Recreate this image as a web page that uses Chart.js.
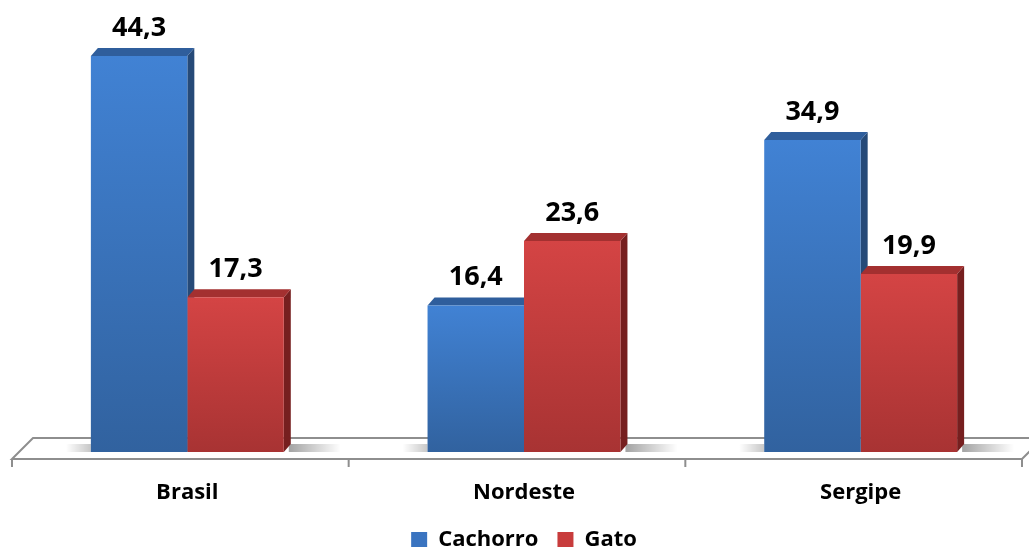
<!DOCTYPE html>
<html>
<head>
<meta charset="utf-8">
<script src="https://cdn.jsdelivr.net/npm/chart.js@4.4.1/dist/chart.umd.min.js"></script>
<style>
  html, body { margin: 0; padding: 0; background: #ffffff; }
  #wrap { width: 1029px; height: 547px; }
</style>
</head>
<body>
<div id="wrap"><canvas id="petChart"></canvas></div>
<script>
// Chart data
const categories = ['Brasil', 'Nordeste', 'Sergipe'];
const cachorro = [44.3, 16.4, 34.9];
const gato = [17.3, 23.6, 19.9];
const yMax = 50;

// Face colours: front top, front bottom, top face, side face
const palette = {
    blue: { top: '#4182d4', bottom: '#31629f', lid: '#2f5e9c', side: '#264a78', legend: '#3a74c0' },
    red:  { top: '#d44444', bottom: '#a83333', lid: '#a33030', side: '#761f1f', legend: '#c83c3c' }
};

const DEPTH_X = 7;
const DEPTH_Y = 8;

function formatValue(v) {
    return v.toFixed(1).replace('.', ',');
}

function frontGradient(colors) {
    return function(context) {
        if (context.type !== 'data') return colors.legend;
        const chart = context.chart;
        const yScale = chart.scales.y;
        if (!yScale || !chart.chartArea) return colors.top;
        const yTop = yScale.getPixelForValue(context.raw);
        const yBase = yScale.getPixelForValue(0);
        const g = chart.ctx.createLinearGradient(0, yTop, 0, yBase);
        g.addColorStop(0, colors.top);
        g.addColorStop(1, colors.bottom);
        return g;
    };
}

// Floor, shadows and the 3D top/side faces, drawn under the front faces
const boxPlugin = {
    id: 'box3d',
    beforeDatasetsDraw(chart) {
        const ctx = chart.ctx;
        const area = chart.chartArea;
        const base = chart.scales.y.getPixelForValue(0);
        const left = area.left, right = area.right;

        ctx.save();
        // floor
        ctx.beginPath();
        ctx.moveTo(left - 7, base + 7);
        ctx.lineTo(left + 14, base - 14);
        ctx.lineTo(right + 14, base - 14);
        ctx.lineTo(right - 7, base + 7);
        ctx.closePath();
        ctx.fillStyle = '#ffffff';
        ctx.fill();
        ctx.strokeStyle = '#8e8e8e';
        ctx.lineWidth = 2;
        ctx.stroke();

        // tick marks at category boundaries on the front edge
        const step = (right - left) / categories.length;
        ctx.beginPath();
        for (let i = 0; i <= categories.length; i++) {
            const tx = left + step * i - 7;
            ctx.moveTo(tx, base + 7);
            ctx.lineTo(tx, base + 15);
        }
        ctx.stroke();

        // soft shadows beside each group
        const blueMeta = chart.getDatasetMeta(0);
        const redMeta = chart.getDatasetMeta(1);
        for (let i = 0; i < categories.length; i++) {
            const b = blueMeta.data[i];
            const r = redMeta.data[i];
            const gx0 = r.x + r.width / 2 + DEPTH_X;
            let g = ctx.createLinearGradient(gx0, 0, gx0 + 50, 0);
            g.addColorStop(0, 'rgba(0,0,0,0.35)');
            g.addColorStop(1, 'rgba(0,0,0,0)');
            ctx.fillStyle = g;
            ctx.fillRect(gx0 - 2, base - DEPTH_Y, 52, DEPTH_Y);
            const lx = b.x - b.width / 2;
            g = ctx.createLinearGradient(lx, 0, lx - 25, 0);
            g.addColorStop(0, 'rgba(0,0,0,0.22)');
            g.addColorStop(1, 'rgba(0,0,0,0)');
            ctx.fillStyle = g;
            ctx.fillRect(lx - 25, base - DEPTH_Y, 25, DEPTH_Y);
        }

        // top and side faces
        chart.data.datasets.forEach((ds, di) => {
            const colors = di === 0 ? palette.blue : palette.red;
            chart.getDatasetMeta(di).data.forEach(bar => {
                const l = bar.x - bar.width / 2;
                const rr = bar.x + bar.width / 2;
                const top = bar.y;
                ctx.fillStyle = colors.side;
                ctx.beginPath();
                ctx.moveTo(rr, top);
                ctx.lineTo(rr + DEPTH_X, top - DEPTH_Y);
                ctx.lineTo(rr + DEPTH_X, base - DEPTH_Y);
                ctx.lineTo(rr, base);
                ctx.closePath();
                ctx.fill();
                ctx.fillStyle = colors.lid;
                ctx.beginPath();
                ctx.moveTo(l, top);
                ctx.lineTo(l + DEPTH_X, top - DEPTH_Y);
                ctx.lineTo(rr + DEPTH_X, top - DEPTH_Y);
                ctx.lineTo(rr, top);
                ctx.closePath();
                ctx.fill();
            });
        });
        ctx.restore();
    },
    afterDatasetsDraw(chart) {
        // value labels
        const ctx = chart.ctx;
        ctx.save();
        ctx.font = 'bold 27px "Open Sans"';
        ctx.fillStyle = '#000000';
        ctx.textAlign = 'center';
        ctx.textBaseline = 'alphabetic';
        chart.data.datasets.forEach((ds, di) => {
            chart.getDatasetMeta(di).data.forEach((bar, i) => {
                ctx.fillText(formatValue(ds.data[i]), bar.x, bar.y - 20);
            });
        });
        ctx.restore();
    }
};

const ctx = document.getElementById('petChart').getContext('2d');
new Chart(ctx, {
    type: 'bar',
    data: {
        labels: categories,
        datasets: [{
            label: 'Cachorro',
            data: cachorro,
            backgroundColor: frontGradient(palette.blue),
            borderWidth: 0
        }, {
            label: 'Gato',
            data: gato,
            backgroundColor: frontGradient(palette.red),
            borderWidth: 0
        }]
    },
    options: {
        responsive: true,
        maintainAspectRatio: false,
        animation: false,
        layout: {
            padding: { left: 19, right: 0, top: 5, bottom: -14 }
        },
        datasets: {
            bar: {
                barPercentage: 1,
                categoryPercentage: 0.573
            }
        },
        plugins: {
            tooltip: { enabled: false },
            legend: {
                position: 'bottom',
                labels: {
                    boxWidth: 16,
                    boxHeight: 16,
                    padding: 19,
                    color: '#000000',
                    font: { family: 'Open Sans', size: 22, weight: 'bold' },
                    generateLabels(chart) {
                        return chart.data.datasets.map((ds, i) => ({
                            text: ds.label,
                            fillStyle: i === 0 ? palette.blue.legend : palette.red.legend,
                            strokeStyle: 'transparent',
                            lineWidth: 0,
                            datasetIndex: i
                        }));
                    }
                }
            }
        },
        scales: {
            x: {
                grid: { display: false },
                border: { display: false },
                ticks: {
                    color: '#000000',
                    padding: 20,
                    font: { family: 'Open Sans', size: 22, weight: 'bold' }
                },
                afterFit(scale) {
                    scale.height = 58;
                }
            },
            y: {
                display: false,
                min: 0,
                max: yMax
            }
        }
    },
    plugins: [boxPlugin]
});
</script>
</body>
</html>
